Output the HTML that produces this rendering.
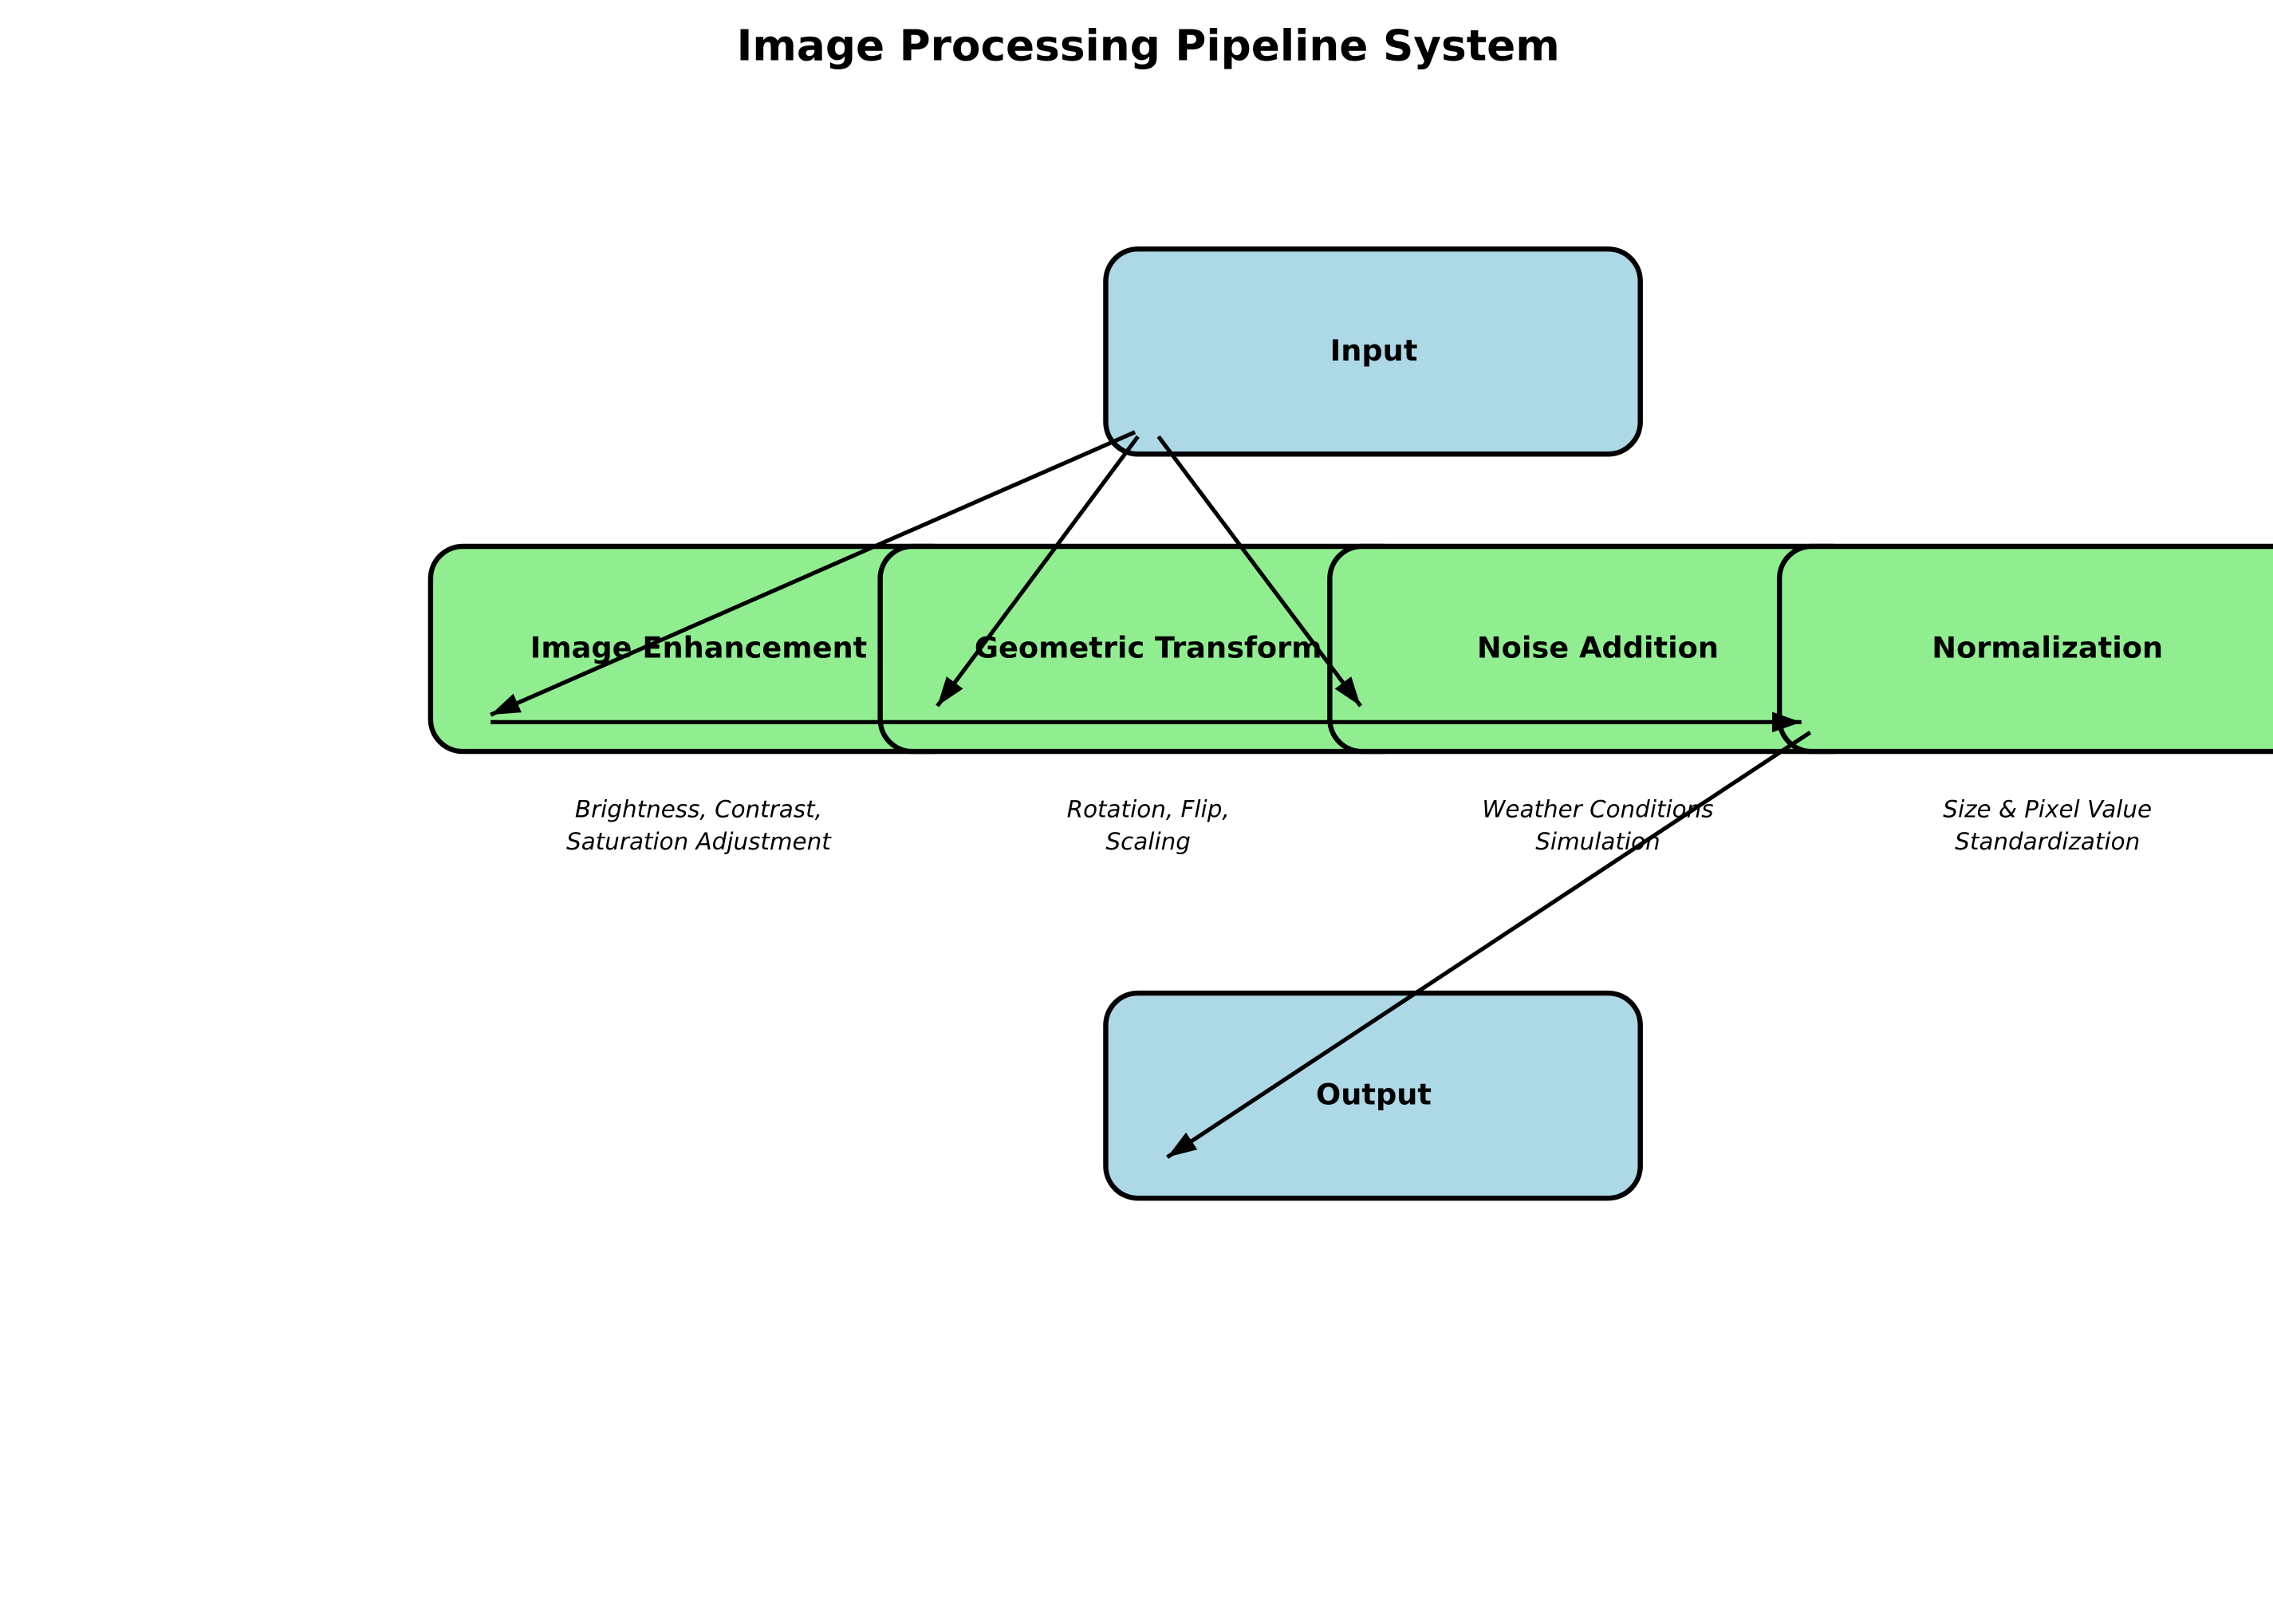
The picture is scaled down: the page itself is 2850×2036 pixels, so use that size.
<!DOCTYPE html>
<html><head><meta charset="utf-8"><style>
html,body{margin:0;padding:0;background:#fff;}
svg{display:block;}
text{font-family:"DejaVu Sans","Liberation Sans",sans-serif;}
</style></head><body>
<svg width="2850" height="2036" viewBox="0 0 1552 1108.7" xmlns="http://www.w3.org/2000/svg">
<defs>
<marker id="ah" markerUnits="userSpaceOnUse" markerWidth="24" markerHeight="16" refX="20" refY="7" orient="auto">
<path d="M0,0 L20,7 L0,14 Z" fill="#000"/>
</marker>
</defs>
<text x="784" y="41" font-size="29" font-weight="bold" text-anchor="middle">Image Processing Pipeline System</text>

<rect x="755" y="170" width="365" height="140" rx="22" fill="#add8e6" stroke="#000" stroke-width="3.5"/>
<text x="938" y="246" font-size="20" font-weight="bold" text-anchor="middle">Input</text>

<rect x="294" y="373" width="365" height="140" rx="22" fill="#90ee90" stroke="#000" stroke-width="3.5"/>
<rect x="601" y="373" width="365" height="140" rx="22" fill="#90ee90" stroke="#000" stroke-width="3.5"/>
<rect x="908" y="373" width="365" height="140" rx="22" fill="#90ee90" stroke="#000" stroke-width="3.5"/>
<rect x="1215" y="373" width="365" height="140" rx="22" fill="#90ee90" stroke="#000" stroke-width="3.5"/>

<text x="477" y="449" font-size="20" font-weight="bold" text-anchor="middle">Image Enhancement</text>
<text x="784" y="449" font-size="20" font-weight="bold" text-anchor="middle">Geometric Transform</text>
<text x="1091" y="449" font-size="20" font-weight="bold" text-anchor="middle">Noise Addition</text>
<text x="1398" y="449" font-size="20" font-weight="bold" text-anchor="middle">Normalization</text>

<g font-size="16" font-style="italic" text-anchor="middle">
<text x="477" y="558">Brightness, Contrast,</text><text x="477" y="580">Saturation Adjustment</text>
<text x="784" y="558">Rotation, Flip,</text><text x="784" y="580">Scaling</text>
<text x="1091" y="558">Weather Conditions</text><text x="1091" y="580">Simulation</text>
<text x="1398" y="558">Size &amp; Pixel Value</text><text x="1398" y="580">Standardization</text>
</g>

<rect x="755" y="678" width="365" height="140" rx="22" fill="#add8e6" stroke="#000" stroke-width="3.5"/>
<text x="938" y="754" font-size="20" font-weight="bold" text-anchor="middle">Output</text>

<g stroke="#000" stroke-width="2.8" fill="none">
<line x1="775" y1="295" x2="335" y2="488" marker-end="url(#ah)"/>
<line x1="777" y1="298" x2="640" y2="482" marker-end="url(#ah)"/>
<line x1="791" y1="298" x2="929" y2="482" marker-end="url(#ah)"/>
<line x1="335" y1="493" x2="1230" y2="493" marker-end="url(#ah)"/>
<line x1="1236" y1="500" x2="797" y2="790" marker-end="url(#ah)"/>
</g>
</svg>
</body></html>
